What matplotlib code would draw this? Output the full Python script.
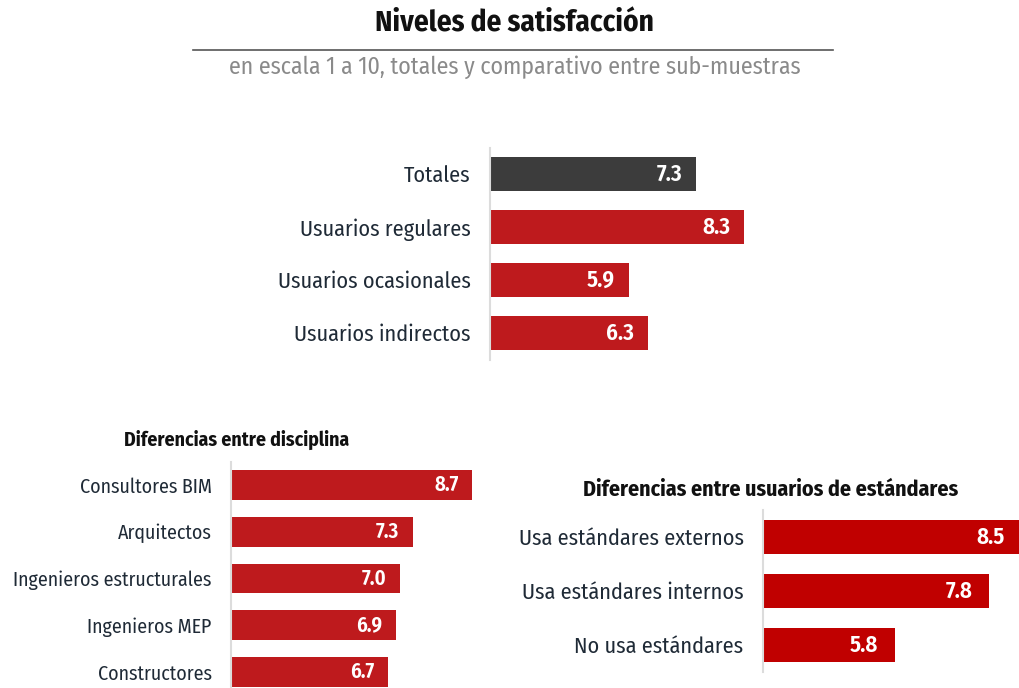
import matplotlib
matplotlib.use("Agg")
import matplotlib.pyplot as plt
from matplotlib.lines import Line2D

plt.rcParams['font.family'] = ['Fira Sans Condensed', 'DejaVu Sans']

# Data
top_cats = ["Totales", "Usuarios regulares", "Usuarios ocasionales", "Usuarios indirectos"]
top_vals = [7.3, 8.3, 5.9, 6.3]

disc_cats = ["Consultores BIM", "Arquitectos", "Ingenieros estructurales", "Ingenieros MEP", "Constructores"]
disc_vals = [8.7, 7.3, 7.0, 6.9, 6.7]

std_cats = ["Usa estándares externos", "Usa estándares internos", "No usa estándares"]
std_vals = [8.5, 7.8, 5.8]

title = "Niveles de satisfacción"
subtitle = "en escala 1 a 10, totales y comparativo entre sub-muestras"
disc_title = "Diferencias entre disciplina"
std_title = "Diferencias entre usuarios de estándares"

RED = "#be1a1d"
RED2 = "#c00000"
DARK = "#3c3c3c"
TXT = "#1f2a36"

W, H = 1019, 688
fig = plt.figure(figsize=(W / 100, H / 100), dpi=100)


def px_axes(x0, y0, x1, y1):
    return fig.add_axes([x0 / W, 1 - y1 / H, (x1 - x0) / W, (y1 - y0) / H])


def draw(ax, cats, vals, colors, xlim, fs_lab, fs_val, val_off):
    y = list(range(len(cats)))
    ax.barh(y, vals, left=0, height=0.64, color=colors, edgecolor="none")
    ax.set_xlim(*xlim)
    ax.set_ylim(len(cats) - 0.5, -0.5)
    ax.set_yticks(y)
    ax.set_yticklabels(cats, fontsize=fs_lab, color=TXT)
    ax.tick_params(axis="y", length=0, pad=14)
    ax.set_xticks([])
    for s in ["top", "right", "bottom"]:
        ax.spines[s].set_visible(False)
    ax.spines["left"].set_color("#dcdcdc")
    ax.spines["left"].set_linewidth(1.5)
    ax.set_facecolor("none")
    for yi, v in zip(y, vals):
        ax.text(v - val_off, yi, f"{v:.1f}", ha="right", va="center",
                fontsize=fs_val, fontweight="semibold", color="white")


# Title
fig.text(514 / W, 1 - 23.5 / H, title, ha="center", va="center", fontsize=21,
         fontweight="bold", color="#111111")
fig.add_artist(Line2D([193 / W, 833 / W], [1 - 50 / H, 1 - 50 / H],
                      color="#555555", linewidth=1.2, transform=fig.transFigure))
fig.text(515 / W, 1 - 67 / H, subtitle, ha="center", va="center", fontsize=17.2,
         color="#8a8a8a")

# Top panel
ax1 = px_axes(490, 147.5, 490 + 5.5 * 48, 359.5)
draw(ax1, top_cats, top_vals, [DARK, RED, RED, RED], (3, 8.5), 16, 16.5, 0.3)

# Bottom-left panel
ax2 = px_axes(231, 461.5, 231 + 6 * 42.3, 695.5)
draw(ax2, disc_cats, disc_vals, [RED] * len(disc_vals), (3, 9), 14.3, 15, 0.32)
fig.text(237 / W, 1 - 440 / H, disc_title, ha="center", va="center", fontsize=14.2,
         fontweight="bold", color="#111111")

# Bottom-right panel
ax3 = px_axes(763, 510, 763 + 6 * 47, 672)
draw(ax3, std_cats, std_vals, [RED2] * len(std_vals), (3, 9), 16, 16.5, 0.35)
fig.text(771 / W, 1 - 490 / H, std_title, ha="center", va="center", fontsize=15.8,
         fontweight="bold", color="#111111")

fig.savefig("out.png", dpi=100)
